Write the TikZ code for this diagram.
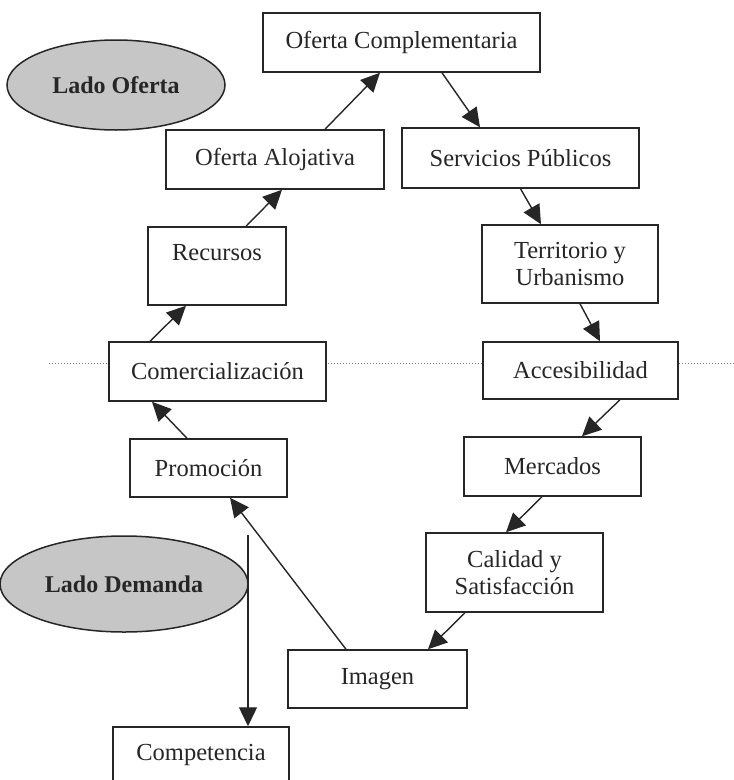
\documentclass[tikz,border=0pt]{standalone}
\usepackage{fontspec}
\setmainfont{Liberation Serif}
\usepackage{color}
\definecolor{mygray}{RGB}{198,198,198}
\definecolor{myink}{RGB}{38,38,38}
\usepackage{tikz}
\usetikzlibrary{shapes.geometric,arrows.meta,positioning,calc}

\begin{document}
\begin{tikzpicture}[
  x=1pt,
  y=-1pt,
  mybox/.style={
    draw=myink,
    line width=1.5pt,
    fill=white,
    rectangle,
    align=center,
    inner sep=0pt,
    text=myink,
    font=\fontsize{24.5}{27}\selectfont
    },
  myside/.style={
    draw=myink,
    line width=1.5pt,
    ellipse,
    fill=mygray,
    inner sep=0pt,
    text=myink,
    font=\fontsize{24}{27}\selectfont\bfseries
    },
  myarrow/.style={
    draw=myink,
    line width=1.4pt,
    -{Triangle[length=19pt,width=18pt]}
    }
]

\useasboundingbox (0,0) rectangle (734,780);

\coordinate (sepl) at (49,363);
\coordinate (sepr) at (734,363);
\draw[gray, dotted, line width=1pt] (sepl) -- (sepr);

\node[myside, minimum width=218pt, minimum height=90pt] (ladoof) at (116,85) {Lado Oferta};
\node[myside, minimum width=248pt, minimum height=96pt] (ladodem) at (124,584) {Lado Demanda};

\node[mybox, minimum width=277pt, minimum height=59pt] (ofcomp) at (401.5,42.5) {Oferta Complementaria};
\node[mybox, minimum width=218pt, minimum height=59pt] (ofaloj) at (275,159.5) {Oferta Alojativa};
\node[mybox, minimum width=237pt, minimum height=60pt] (servpub) at (520.5,158) {Servicios Públicos};
\node[mybox, minimum width=138pt, minimum height=78pt] (recursos) at (217,266) {Recursos\\\mbox{}};
\node[mybox, minimum width=176pt, minimum height=78pt] (territ) at (570,264) {Territorio y\\Urbanismo};
\node[mybox, minimum width=217pt, minimum height=59pt] (comerc) at (217.5,371.5) {Comercialización};
\node[mybox, minimum width=195pt, minimum height=57pt] (acces) at (580.5,370.5) {Accesibilidad};
\node[mybox, minimum width=157pt, minimum height=58pt] (promo) at (208.5,468) {Promoción};
\node[mybox, minimum width=177pt, minimum height=59pt] (merc) at (552.5,466.5) {Mercados};
\node[mybox, minimum width=177pt, minimum height=79pt] (calidad) at (514.5,572.5) {Calidad y\\Satisfacción};
\node[mybox, minimum width=179pt, minimum height=58pt] (imagen) at (377.5,679) {Imagen};
\node[mybox, minimum width=176pt, minimum height=78pt] (compet) at (201,766) {Competencia\\\mbox{}};

\draw[myarrow] ([xshift=29pt]recursos.north) -- ([xshift=7pt]ofaloj.south);
\draw[myarrow] ([xshift=50pt]ofaloj.north) -- ([xshift=-21.5pt]ofcomp.south);
\draw[myarrow] ([xshift=40.5pt]ofcomp.south) -- ([xshift=-40.5pt]servpub.north);
\draw[myarrow] (servpub.south) -- ([xshift=-29pt]territ.north);
\draw[myarrow] ([xshift=10pt]territ.south) -- ([xshift=19.5pt]acces.north);
\draw[myarrow] ([xshift=39.5pt]acces.south) -- ([xshift=29.5pt]merc.north);
\draw[myarrow] ([xshift=-10.5pt]merc.south) -- ([xshift=-8.5pt]calidad.north);
\draw[myarrow] ([xshift=-49.5pt]calidad.south) -- ([xshift=50.5pt]imagen.north);
\draw[myarrow] ([xshift=-31.5pt]imagen.north) -- ([xshift=21.5pt]promo.south);
\draw[myarrow] ([xshift=-21.5pt]promo.north) -- ([xshift=-65.5pt]comerc.south);
\draw[myarrow] ([xshift=-67.5pt]comerc.north) -- ([xshift=-31pt]recursos.south);

\coordinate (compstart) at (248,535);
\draw[myarrow] (compstart) -- ([xshift=47pt]compet.north);

\end{tikzpicture}
\end{document}
